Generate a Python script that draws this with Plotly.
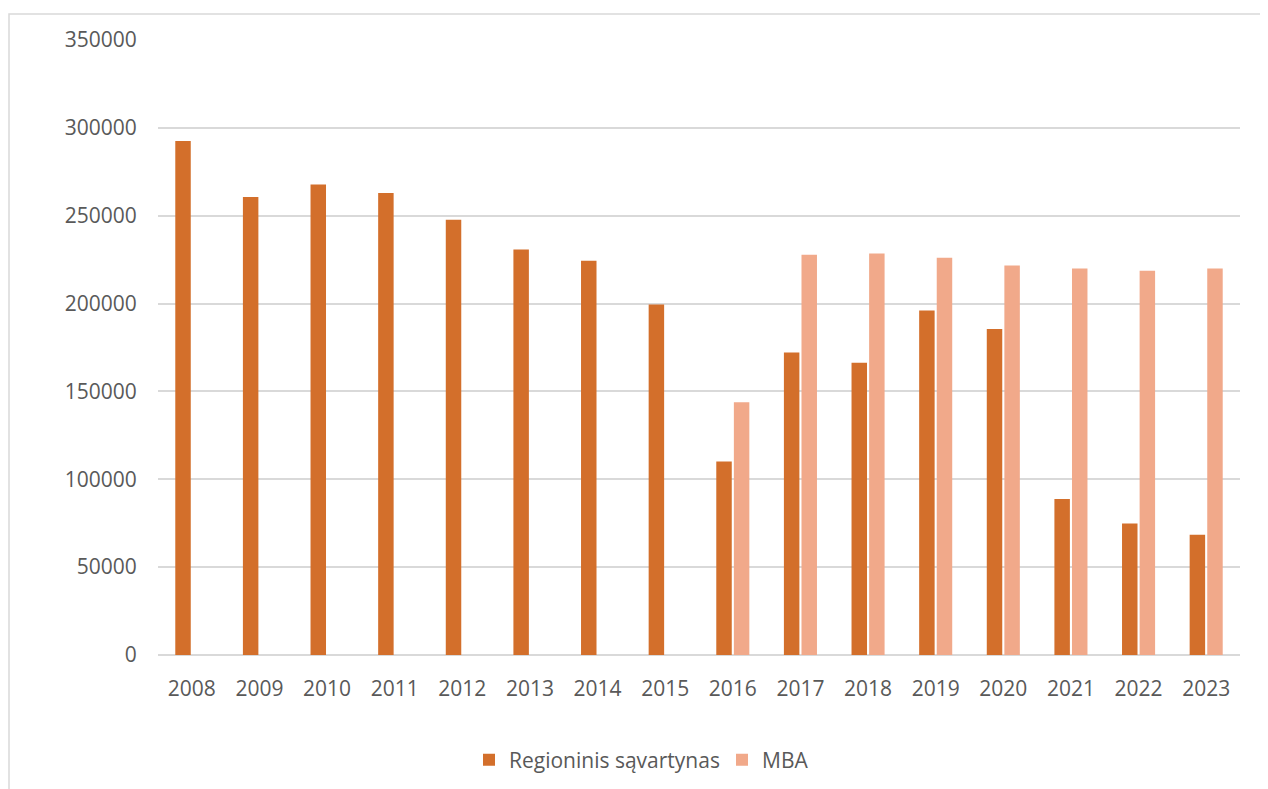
import plotly.graph_objects as go

years = [str(y) for y in range(2008, 2024)]
regioninis = [292500, 260600, 267800, 262900, 247700, 230800, 224400, 199500,
              110100, 172200, 166300, 196100, 185500, 88800, 74800, 68500]
mba = [None, None, None, None, None, None, None, None,
       143900, 227800, 228500, 226100, 221700, 220000, 218700, 220000]
y_ticks = [0, 50000, 100000, 150000, 200000, 250000, 300000, 350000]

dark = "#D36F2B"
light = "#F1A98A"
grey_text = "#595959"
grid = "#D9D9D9"

fig = go.Figure()
fig.add_trace(go.Bar(x=years, y=regioninis, name="Regioninis sąvartynas",
                     marker=dict(color=dark, line=dict(width=0))))
fig.add_trace(go.Bar(x=years, y=mba, name="MBA",
                     marker=dict(color=light, line=dict(width=0))))

# page body has an 8px margin, so work in page pixels and shift back
OFF = 8
W, H = 1268 - OFF, 789 - OFF
L, R, T, B = 158 - OFF, 1240 - OFF, 40 - OFF, 655 - OFF


def px_x(p):
    return (p - OFF - L) / (R - L)


def px_y(p):
    return (B - (p - OFF)) / (B - T)


fig.update_layout(
    width=W, height=H,
    margin=dict(l=L, r=W - R, t=T, b=H - B, autoexpand=False),
    paper_bgcolor="white", plot_bgcolor="white",
    font=dict(family="Open Sans", size=21, color=grey_text),
    barmode="group", bargap=0.48, bargroupgap=0.12,
    showlegend=True,
    legend=dict(orientation="h", x=px_x(469), y=px_y(760),
                xanchor="left", yanchor="middle",
                entrywidth=208,
                font=dict(size=21, color=grey_text),
                itemwidth=30, traceorder="normal"),
    shapes=[dict(type="rect", xref="paper", yref="paper",
                 x0=px_x(9), x1=px_x(1300), y0=px_y(14), y1=px_y(830),
                 line=dict(color=grid, width=1.5))],
)
fig.update_xaxes(showgrid=False, ticks="outside", ticklen=15,
                 tickcolor="rgba(0,0,0,0)", showline=False,
                 tickfont=dict(size=21, color=grey_text))
fig.update_yaxes(range=[0, 350000], tickvals=y_ticks,
                 ticktext=[str(v) for v in y_ticks],
                 showgrid=True, gridcolor=grid, gridwidth=1.5,
                 zeroline=True, zerolinecolor=grid, zerolinewidth=1.5,
                 ticks="outside", ticklen=16, tickcolor="rgba(0,0,0,0)",
                 tickfont=dict(size=21, color=grey_text))

fig.write_html("out.html")
